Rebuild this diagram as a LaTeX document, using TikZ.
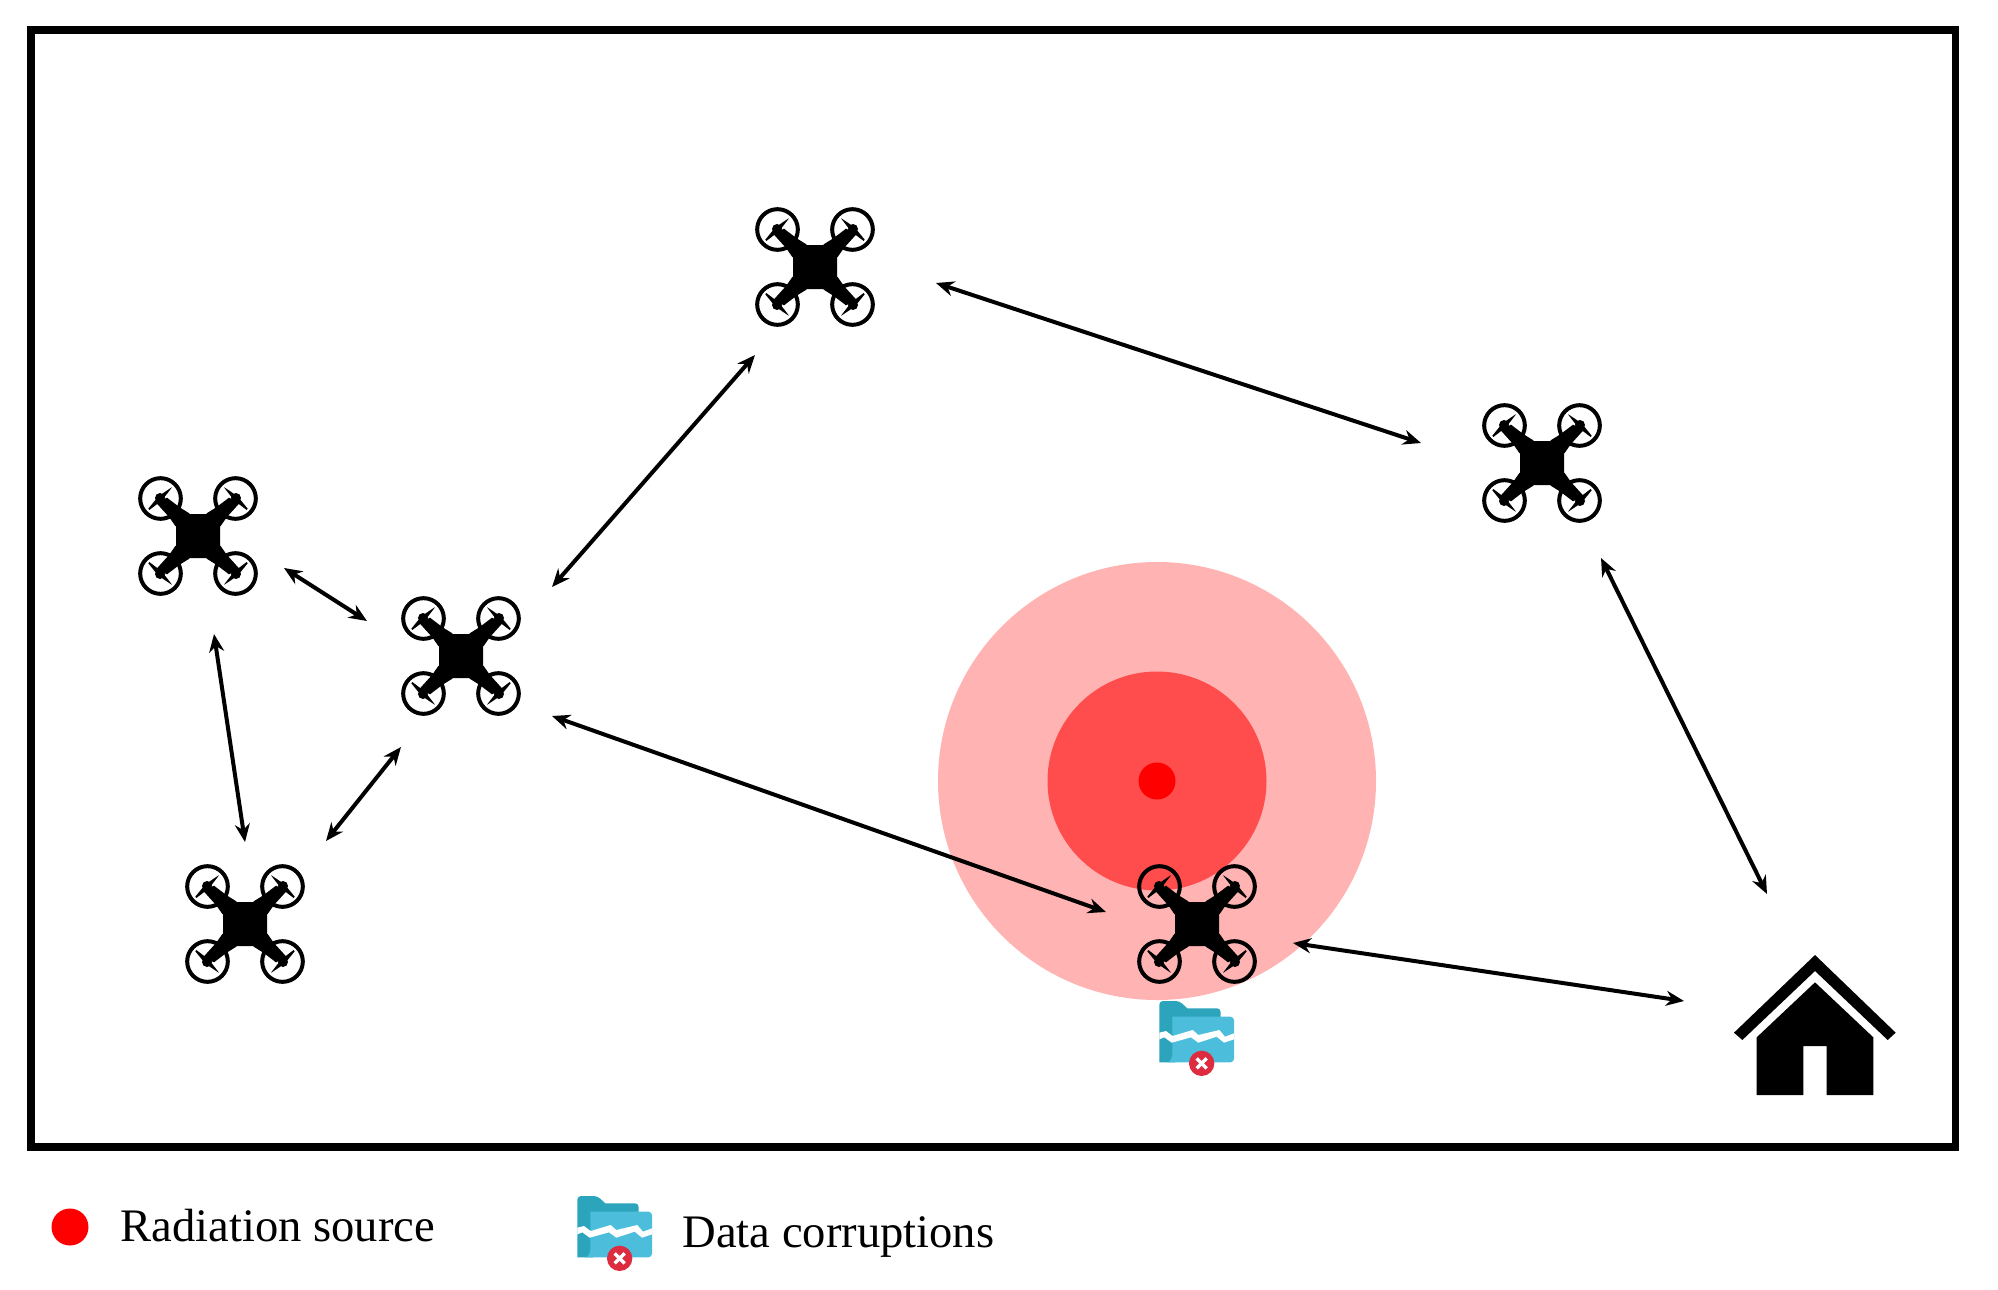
\documentclass[tikz,border=0pt]{standalone}
\usepackage{fontspec}
\setmainfont{Liberation Serif}
\usetikzlibrary{arrows.meta}
\definecolor{halo}{HTML}{FFB3B3}
\definecolor{core}{HTML}{FF4D4D}
\definecolor{folderdark}{HTML}{2CA5BC}
\definecolor{folderlight}{HTML}{4CBEDB}
\definecolor{badge}{HTML}{DD2B40}
\newcommand{\droneblade}{%
    \fill (114,-114) circle (15);
    \fill (26,-68) -- (55,-86) -- (93,-115) -- (124,-98) -- (86,-56) -- (68,-30) -- (0,0) -- cycle;
    \fill (78,-146) -- (82,-144) -- (119,-119) -- (149,-82) -- (146,-78) -- (108,-107) -- cycle;
    \draw[line width=2pt] (112.5,-112.5) circle (61);
}
\tikzset{
  dronebox/.style={minimum size=75pt,inner sep=0pt,outer sep=0pt},
  iconbox/.style={minimum width=38pt,minimum height=30pt,inner sep=0pt},
  link/.style={line width=2pt,{Stealth[length=9pt,width=7.5pt]}-{Stealth[length=9pt,width=7.5pt]}},
  legendtext/.style={font=\fontsize{23.3pt}{28pt}\selectfont,anchor=base west,inner sep=0pt},
  drone/.pic={
    \begin{scope}[x=.16667pt,y=-.16667pt]
      \fill[rounded corners=2pt] (-66,-66) rectangle (66,66);
      \droneblade
      \begin{scope}[xscale=-1]\droneblade\end{scope}
      \begin{scope}[yscale=-1]\droneblade\end{scope}
      \begin{scope}[xscale=-1,yscale=-1]\droneblade\end{scope}
    \end{scope}
  },
  folder/.pic={
    \begin{scope}[x=.16667pt,y=-.16667pt]
      \fill[folderdark,rounded corners=1.8pt] (88,247) -- (88,63) -- (148,63) [sharp corners] -- (172,85) [rounded corners=1.8pt] -- (272,85) -- (272,125) [sharp corners] -- (135,247) -- cycle;
      \fill[folderlight,rounded corners=1.8pt] (127,110) -- (312,110) -- (312,247) -- (105,247) [sharp corners] .. controls (120,245) and (127,235) .. (127,222) -- cycle;
      \fill[white] (88,158) -- (108,153) -- (128,168) -- (188,150) -- (205,165) -- (268,150) -- (285,170) -- (312,160) -- (312,178) -- (282,188) -- (260,170) -- (205,188) -- (183,172) -- (125,188) -- (103,172) -- (88,178) -- cycle;
      \fill[badge] (215,250) circle (38);
      \draw[white,line width=1.7pt] (200,235) -- (230,265) (230,235) -- (200,265);
    \end{scope}
  },
  house/.pic={
    \begin{scope}[x=.16667pt,y=-.16667pt]
      \fill (285,45) -- (527,278) -- (503,300) -- (285,93) -- (67,300) -- (42,278) -- cycle;
      \fill (285,127) -- (460,292) -- (460,465) -- (320,465) -- (320,318) -- (250,318) -- (250,465) -- (110,465) -- (110,292) -- cycle;
    \end{scope}
  }
}
\begin{document}
\begin{tikzpicture}[x=.5pt,y=-.5pt]
\useasboundingbox (0,0) rectangle (1998,1290);
\fill[white] (0,0) rectangle (1998,1290);
\draw[line width=3.75pt] (31,30) rectangle (1955.5,1147);
% radiation
\node[circle,fill=halo,minimum size=219pt,inner sep=0pt] (halo) at (1157,781) {};
\node[circle,fill=core,minimum size=109.5pt,inner sep=0pt] (core) at (1157,781) {};
\node[circle,fill=red,minimum size=18.5pt,inner sep=0pt] (source) at (1157,781) {};
% drones
\node[dronebox] (d1) at (815,267) {};
\node[dronebox] (d2) at (1542,463) {};
\node[dronebox] (d3) at (198,536) {};
\node[dronebox] (d4) at (461,656) {};
\node[dronebox] (d5) at (245,924) {};
\node[dronebox] (d6) at (1197,924) {};
\foreach \n in {d1,d2,d3,d4,d5,d6} \pic at (\n) {drone};
% home
\node[minimum width=90pt,minimum height=72pt,inner sep=0pt] (home) at (1815,1037) {};
\pic at ([shift={(-95,-97)}]home.center) {house};
% folders
\node[iconbox] (f1) at (1196,1041) {};
\pic at ([shift={(-66,-61)}]f1.center) {folder};
\node[iconbox] (f2) at (614,1236) {};
\pic at ([shift={(-66,-61)}]f2.center) {folder};
% links
\draw[link] ([shift={(121,16)}]d1.center) -- ([shift={(-121,-20)}]d2.center);
\draw[link] ([shift={(-60,88)}]d1.center) -- ([shift={(91,-69)}]d4.center);
\draw[link] ([shift={(86,32)}]d3.center) -- ([shift={(-94,-35)}]d4.center);
\draw[link] ([shift={(16,98)}]d3.center) -- ([shift={(0,-82)}]d5.center);
\draw[link] ([shift={(-60,91)}]d4.center) -- ([shift={(81,-83)}]d5.center);
\draw[link] ([shift={(91,60)}]d4.center) -- ([shift={(-91,-12)}]d6.center);
\draw[link] ([shift={(96,19)}]d6.center) -- ([shift={(-131,-36)}]home.center);
\draw[link] ([shift={(59,95)}]d2.center) -- ([shift={(-48,-143)}]home.center);
% legend
\node[circle,fill=red,minimum size=18.5pt,inner sep=0pt] (lsource) at (70,1227) {};
\node[legendtext] (ltext1) at (120,1241) {Radiation source};
\node[legendtext] (ltext2) at (682,1247) {Data corruptions};
\end{tikzpicture}
\end{document}
